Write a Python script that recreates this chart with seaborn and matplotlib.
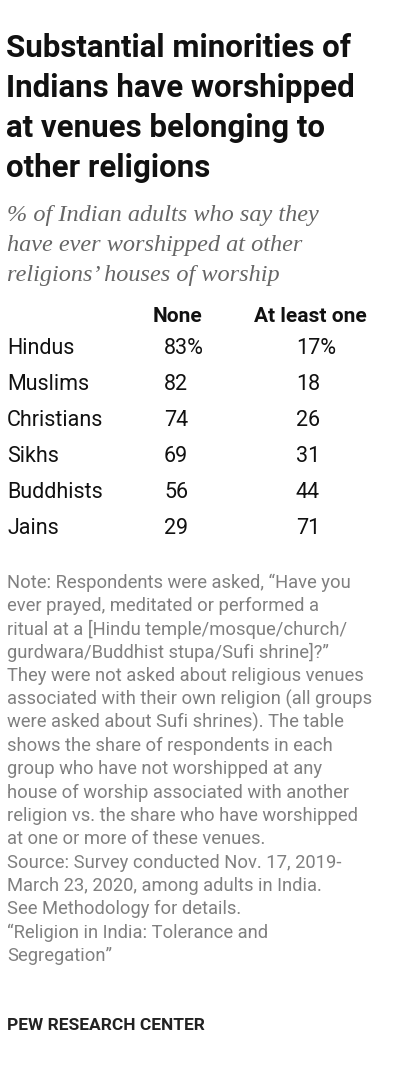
import matplotlib
matplotlib.use("Agg")
import matplotlib.pyplot as plt
import seaborn as sns

sns.set_theme(style="white")
plt.rcParams['font.family'] = ['Roboto', 'DejaVu Sans']

title_lines = ["Substantial minorities of", "Indians have worshipped",
               "at venues belonging to", "other religions"]
subtitle_lines = ["% of Indian adults who say they", "have ever worshipped at other",
                  "religions\u2019 houses of worship"]
columns = ["None", "At least one"]
groups = ["Hindus", "Muslims", "Christians", "Sikhs", "Buddhists", "Jains"]
none_vals = ["83%", "82", "74", "69", "56", "29"]
atleast_vals = ["17%", "18", "26", "31", "44", "71"]
note_lines = [
    "Note: Respondents were asked, \u201cHave you",
    "ever prayed, meditated or performed a",
    "ritual at a [Hindu temple/mosque/church/",
    "gurdwara/Buddhist stupa/Sufi shrine]?\u201d",
    "They were not asked about religious venues",
    "associated with their own religion (all groups",
    "were asked about Sufi shrines). The table",
    "shows the share of respondents in each",
    "group who have not worshipped at any",
    "house of worship associated with another",
    "religion vs. the share who have worshipped",
    "at one or more of these venues.",
    "Source: Survey conducted Nov. 17, 2019-",
    "March 23, 2020, among adults in India.",
    "See Methodology for details.",
    "\u201cReligion in India: Tolerance and",
    "Segregation\u201d",
]
footer = "PEW RESEARCH CENTER"

fig = plt.figure(figsize=(4, 10.88), dpi=100)
ax = fig.add_axes([0, 0, 1, 1])
ax.set_xlim(0, 400)
ax.set_ylim(1088, 0)
ax.axis("off")

for i, t in enumerate(title_lines):
    ax.text(6, 48 + 40 * i, t, fontsize=22.5, fontweight="bold", color="#111111", va="center")
for i, t in enumerate(subtitle_lines):
    ax.text(7, 215 + 30 * i, t, fontsize=17.5, style="italic", family="Liberation Serif",
            color="#666666", va="center")

col_x = [177, 310]
for x, c in zip(col_x, columns):
    ax.text(x, 316, c, fontsize=15, fontweight="bold", ha="center", va="center", color="#111111")
for i, g in enumerate(groups):
    y = 349 + 36 * i
    ax.text(7, y, g, fontsize=15.5, va="center", color="#111111")
    ax.text(164, y, none_vals[i], fontsize=15.5, va="center", ha="left", color="#111111")
    ax.text(296, y, atleast_vals[i], fontsize=15.5, va="center", ha="left", color="#111111")

for i, t in enumerate(note_lines):
    ax.text(7, 583 + 23.3 * i, t, fontsize=13.2, va="center", color="#808080")

ax.text(7, 1026, footer, fontsize=12.5, fontweight="bold", va="center", color="#222222")

fig.savefig("out.png", dpi=100)
